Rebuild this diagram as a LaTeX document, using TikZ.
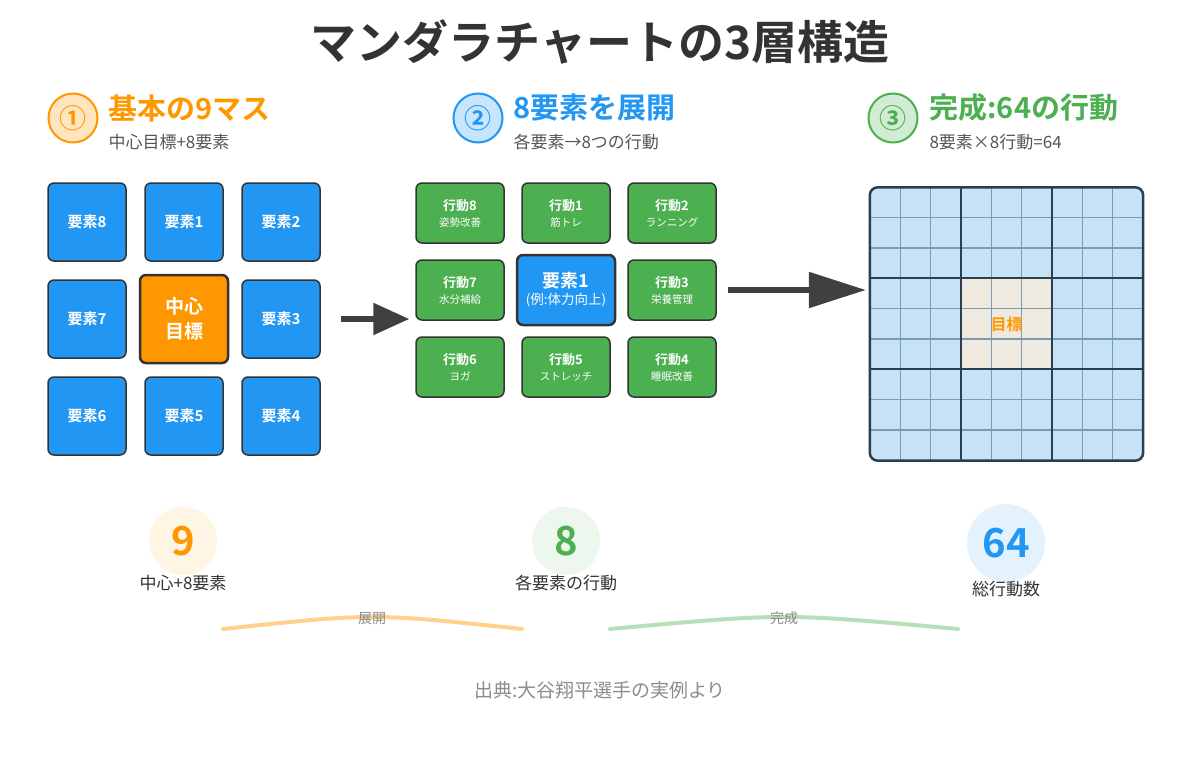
\documentclass[tikz,border=0pt]{standalone}
\usepackage{fontspec}
\setmainfont{Noto Sans CJK JP}[BoldFont={* Bold}]
\usetikzlibrary{arrows.meta,positioning}
\definecolor{mblue}{HTML}{2196F3}
\definecolor{mgreen}{HTML}{4CAF50}
\definecolor{morange}{HTML}{FF9800}
\definecolor{mdark}{HTML}{333333}
\definecolor{mgray}{HTML}{555555}
\definecolor{cellblue}{HTML}{C6E2F7}
\definecolor{cellbeige}{HTML}{EEEAE0}
\definecolor{cellline}{HTML}{7D9AB3}
\definecolor{blockline}{HTML}{2C3E50}
\tikzset{
  elembox/.style={draw=mdark,line width=1.5pt,fill=mblue,rounded corners=6pt,
    minimum width=78pt,minimum height=78pt,inner sep=0pt,text=white,
    font=\bfseries\fontsize{15}{18}\selectfont},
  goalbox/.style={elembox,fill=morange,line width=2.5pt,minimum width=88pt,minimum height=88pt,
    align=center,font=\bfseries\fontsize{19}{23}\selectfont},
  actbox/.style={draw=mdark,line width=1.5pt,fill=mgreen,rounded corners=6pt,
    minimum width=88pt,minimum height=60pt,inner sep=0pt,text=white,align=center},
  focusbox/.style={actbox,fill=mblue,line width=2.5pt,minimum width=98pt,minimum height=70pt},
  stepmark/.style={circle,line width=2pt,minimum size=49pt,inner sep=0pt,
    font=\bfseries\fontsize{27}{29}\selectfont},
  steptitle/.style={anchor=west,font=\bfseries\fontsize{29}{32}\selectfont},
  stepsub/.style={anchor=west,text=mgray,font=\fontsize{17}{20}\selectfont},
  countmark/.style={circle,inner sep=0pt,font=\bfseries\fontsize{40}{44}\selectfont},
  countlabel/.style={text=mdark,font=\fontsize{17}{20}\selectfont},
  bigarrow/.style={draw=black!75,line width=5.5pt},
  flowarc/.style={line width=4pt,line cap=round},
  flowlabel/.style={text=black!45,font=\fontsize{14}{16}\selectfont}
}
\begin{document}
\begin{tikzpicture}[x=1pt,y=-1pt]
   \useasboundingbox [fill=white] (0,0) rectangle (1200,774);
   \node (title) at (600,42) {\bfseries\fontsize{46}{50}\selectfont\textcolor{mdark}{マンダラチャートの3層構造}};
   % headers
   \node [stepmark,draw=morange,fill=morange!25,text=morange] (h1) at (73,118) {①};
   \node [steptitle,text=morange] (t1) at (105,108) {基本の9マス};
   \node [stepsub] (s1) at (105,142) {中心目標+8要素};
   \node [stepmark,draw=mblue,fill=mblue!25,text=mblue] (h2) at (478,118) {②};
   \node [steptitle,text=mblue] (t2) at (510,108) {8要素を展開};
   \node [stepsub] (s2) at (510,142) {各要素→8つの行動};
   \node [stepmark,draw=mgreen,fill=mgreen!25,text=mgreen] (h3) at (893,118) {③};
   \node [steptitle,text=mgreen] (t3) at (926,108) {完成:64の行動};
   \node [stepsub] (s3) at (926,142) {8要素×8行動=64};
   % basic 9 cells
   \node [elembox] (e8) at (87,222) {要素8};
   \node [elembox] (e1) at (184,222) {要素1};
   \node [elembox] (e2) at (281,222) {要素2};
   \node [elembox] (e7) at (87,319) {要素7};
   \node [goalbox] (goal) at (184,319) {中心\\[2pt]目標};
   \node [elembox] (e3) at (281,319) {要素3};
   \node [elembox] (e6) at (87,416) {要素6};
   \node [elembox] (e5) at (184,416) {要素5};
   \node [elembox] (e4) at (281,416) {要素4};
   % one element expanded
   \node [actbox] (a8) at (460,213) {\bfseries\fontsize{13}{15}\selectfont 行動8\\[4pt]\fontsize{10.5}{12}\selectfont 姿勢改善};
   \node [actbox] (a1) at (566,213) {\bfseries\fontsize{13}{15}\selectfont 行動1\\[4pt]\fontsize{10.5}{12}\selectfont 筋トレ};
   \node [actbox] (a2) at (672,213) {\bfseries\fontsize{13}{15}\selectfont 行動2\\[4pt]\fontsize{10.5}{12}\selectfont ランニング};
   \node [actbox] (a7) at (460,290) {\bfseries\fontsize{13}{15}\selectfont 行動7\\[4pt]\fontsize{10.5}{12}\selectfont 水分補給};
   \node [focusbox] (elem) at (566,290) {\bfseries\fontsize{18}{21}\selectfont 要素1\\[3pt]\fontsize{13.5}{15}\selectfont (例:体力向上)};
   \node [actbox] (a3) at (672,290) {\bfseries\fontsize{13}{15}\selectfont 行動3\\[4pt]\fontsize{10.5}{12}\selectfont 栄養管理};
   \node [actbox] (a6) at (460,367) {\bfseries\fontsize{13}{15}\selectfont 行動6\\[4pt]\fontsize{10.5}{12}\selectfont ヨガ};
   \node [actbox] (a5) at (566,367) {\bfseries\fontsize{13}{15}\selectfont 行動5\\[4pt]\fontsize{10.5}{12}\selectfont ストレッチ};
   \node [actbox] (a4) at (672,367) {\bfseries\fontsize{13}{15}\selectfont 行動4\\[4pt]\fontsize{10.5}{12}\selectfont 睡眠改善};
   % full 81 cells
   \node [fill=cellblue,rounded corners=8pt,minimum size=273pt,inner sep=0pt] (full) at (1006.5,324) {};
   \begin{scope}[shift={(full.north west)},x=30.333pt,y=-30.333pt]
     \fill [cellbeige] (3,3) rectangle (6,6);
     \foreach \i in {1,...,8}
       \draw [cellline,line width=1.2pt] (\i,0) -- (\i,9) (0,\i) -- (9,\i);
     \foreach \i in {3,6}
       \draw [blockline,line width=2pt] (\i,0) -- (\i,9) (0,\i) -- (9,\i);
   \end{scope}
   \draw [blockline,line width=2.5pt,rounded corners=8pt] (full.north west) rectangle (full.south east);
   \node [text=morange,font=\bfseries\fontsize{16}{18}\selectfont] (goalmark) at (full.center) {目標};
   % arrows
   \draw [bigarrow,-{Triangle[length=36pt,width=31pt]},shorten <=20pt,shorten >=6pt] (e3.east) -- (e3.east -| a7.west);
   \draw [bigarrow,-{Triangle[length=57pt,width=35pt]},shorten <=11pt,shorten >=4pt] (a3.east) -- (a3.east -| full.west);
   % counts
   \node [countmark,fill=morange!10,minimum size=68pt,text=morange] (n9) at (183,541) {9};
   \node [countlabel] (l9) at (183,583) {中心+8要素};
   \node [countmark,fill=mgreen!10,minimum size=68pt,text=mgreen] (n8) at (566,541) {8};
   \node [countlabel] (l8) at (566,583) {各要素の行動};
   \node [countmark,fill=mblue!12,minimum size=78pt,text=mblue] (n64) at (1006,543) {64};
   \node [countlabel] (l64) at (1006,589) {総行動数};
   % flow
   \coordinate (f1a) at (223,629);
   \coordinate (f1b) at (522,629);
   \coordinate (f2a) at (610,629);
   \coordinate (f2b) at (958,629);
   \draw [flowarc,morange!45] (f1a) .. controls (372,613) .. (f1b);
   \draw [flowarc,mgreen!40] (f2a) .. controls (784,613) .. (f2b);
   \node [flowlabel] (fl1) at (372,618) {展開};
   \node [flowlabel] (fl2) at (784,618) {完成};
   \node [text=black!45,font=\fontsize{19}{21}\selectfont] (src) at (600,690) {出典:大谷翔平選手の実例より};
\end{tikzpicture}
\end{document}
